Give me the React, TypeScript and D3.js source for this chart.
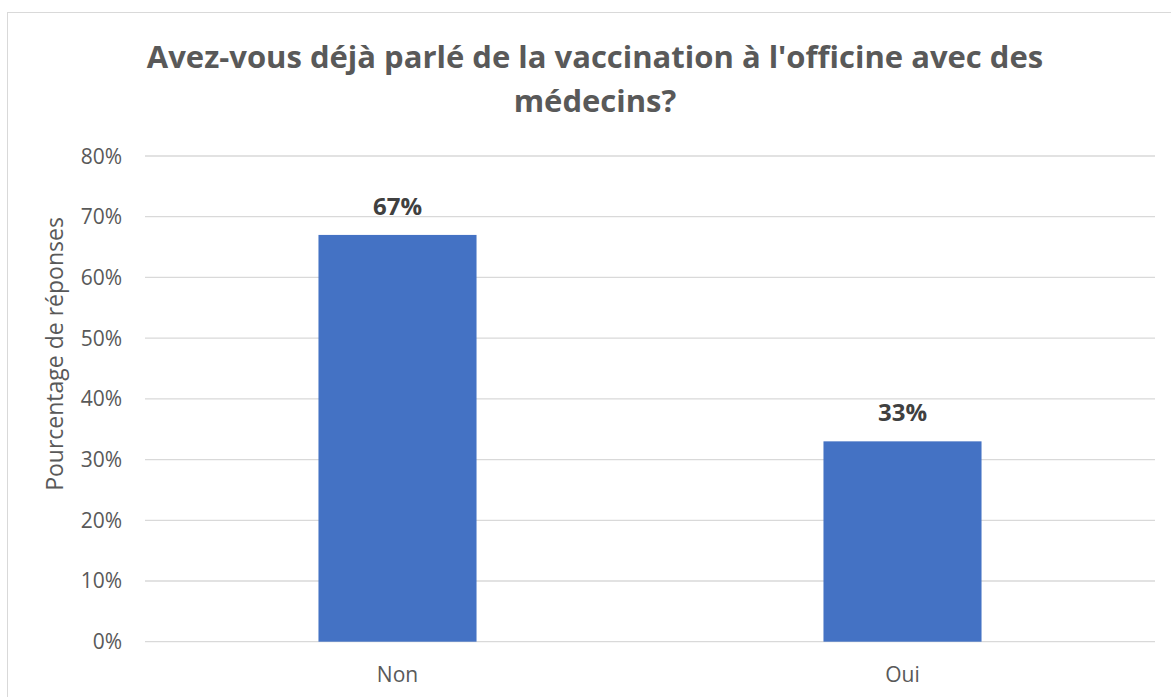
import React from "react";
import * as d3 from "d3";

const categories = ["Non", "Oui"];
const values = [0.67, 0.33];
const yTicks = [0, 0.1, 0.2, 0.3, 0.4, 0.5, 0.6, 0.7, 0.8];
const titleLines = ["Avez-vous déjà parlé de la vaccination à l'officine avec des", "médecins?"];
const yAxisTitle = "Pourcentage de réponses";

const W = 1171;
const H = 697;
const FONT = "'Open Sans', sans-serif";

export default function App() {
  const left = 145, right = 1155, top = 156, bottom = 641.7;
  const x = d3.scaleBand<string>().domain(categories).range([left, right]).paddingInner(0.687).paddingOuter(0.3435);
  const band = d3.scaleBand<string>().domain(categories).range([left, right]);
  const y = d3.scaleLinear().domain([0, 0.8]).range([bottom, top]);
  const fmt = d3.format(".0%");

  return (
    <div style={{ position: "absolute", left: 0, top: 0 }}>
      <svg width={W} height={H} style={{ display: "block", background: "#fff" }}>
        <rect x={7.5} y={12.5} width={1175} height={700} fill="#fff" stroke="#d9d9d9" strokeWidth={1} />
        {titleLines.map((t, i) => (
          <text key={i} x={595} y={68 + i * 44} textAnchor="middle" fontFamily={FONT} fontWeight="bold" fontSize={31} fill="#595959">
            {t}
          </text>
        ))}
        {yTicks.map((t) => (
          <g key={t}>
            <line x1={left} x2={right} y1={y(t)} y2={y(t)} stroke="#d9d9d9" strokeWidth={1.3} />
            <text x={122} y={y(t) + 7.5} textAnchor="end" fontFamily={FONT} fontSize={21} fill="#595959">
              {fmt(t)}
            </text>
          </g>
        ))}
        <text transform={`translate(63, 354) rotate(-90)`} textAnchor="middle" fontFamily={FONT} fontSize={23} fill="#595959">
          {yAxisTitle}
        </text>
        {categories.map((c, i) => {
          const bx = x(c)!;
          const bw = x.bandwidth();
          return (
            <g key={c}>
              <rect x={bx} y={y(values[i])} width={bw} height={bottom - y(values[i])} fill="#4472c4" />
              <text x={bx + bw / 2} y={y(values[i]) - 20} textAnchor="middle" fontFamily={FONT} fontWeight="bold" fontSize={24} fill="#404040">
                {fmt(values[i])}
              </text>
              <text x={band(c)! + band.bandwidth() / 2} y={682} textAnchor="middle" fontFamily={FONT} fontSize={21} fill="#595959">
                {c}
              </text>
            </g>
          );
        })}
      </svg>
    </div>
  );
}
